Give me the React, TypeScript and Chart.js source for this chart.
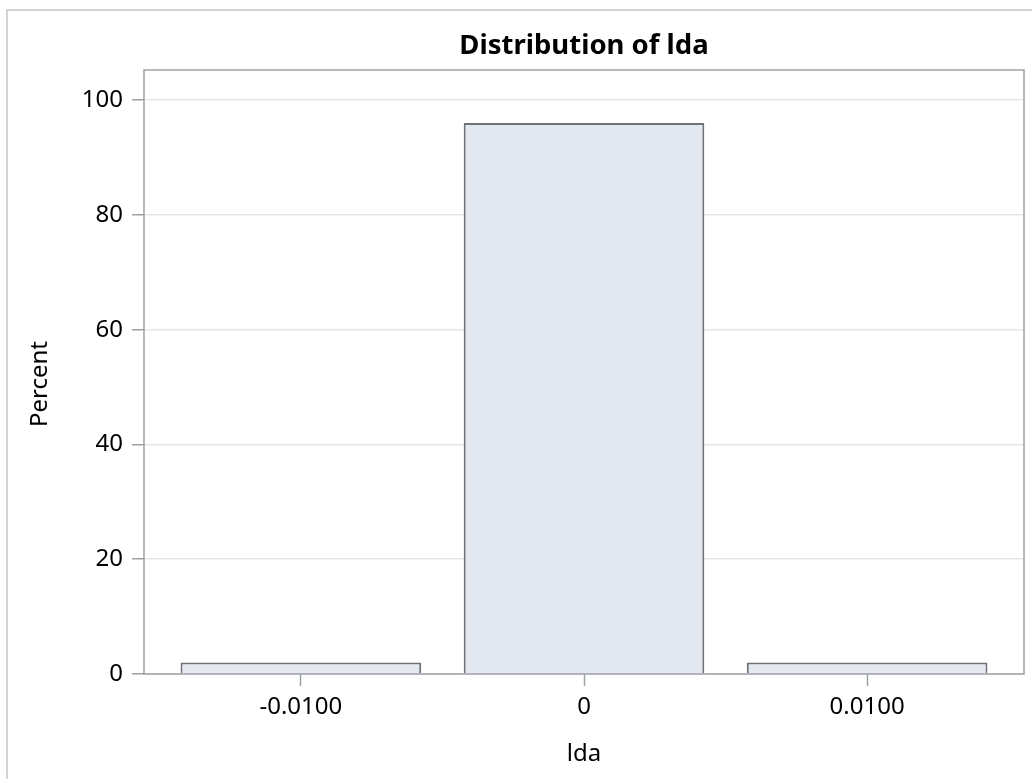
import React, { useEffect, useRef } from "react";
import { Chart, registerables } from "chart.js";

Chart.register(...registerables);

// ---- data ----
const binCenters = [-0.01, 0, 0.01];
const binLabels = ["-0.0100", "0", "0.0100"];
const percentValues = [2.0, 96.0, 2.0];
const yTickValues = [0, 20, 40, 60, 80, 100];
const chartTitle = "Distribution of lda";
const xAxisTitle = "lda";
const yAxisTitle = "Percent";

const FONT = "'Noto Sans', 'DejaVu Sans', sans-serif";
const FRAME = "#9da1a6";

const decorPlugin = {
  id: "decor",
  beforeDraw(chart: any) {
    const { ctx } = chart;
    ctx.save();
    ctx.fillStyle = "#ffffff";
    ctx.fillRect(0, 0, chart.width, chart.height);
    ctx.strokeStyle = "#d4d4d4";
    ctx.lineWidth = 2;
    ctx.strokeRect(7, 10, chart.width + 40, chart.height + 40);
    ctx.restore();
  },
  afterDraw(chart: any) {
    const { ctx, chartArea } = chart;
    const cx = (chartArea.left + chartArea.right) / 2;
    const cy = (chartArea.top + chartArea.bottom) / 2;
    ctx.save();
    // plot frame
    ctx.strokeStyle = FRAME;
    ctx.lineWidth = 1.5;
    ctx.strokeRect(chartArea.left, chartArea.top, chartArea.right - chartArea.left, chartArea.bottom - chartArea.top);
    ctx.fillStyle = "#000000";
    // title
    ctx.font = `bold 27.5px ${FONT}`;
    ctx.textAlign = "center";
    ctx.textBaseline = "alphabetic";
    ctx.fillText(chartTitle, cx, 54);
    // x axis title
    ctx.font = `24px ${FONT}`;
    ctx.fillText(xAxisTitle, cx, 761);
    // y axis title
    ctx.translate(47, cy + 12);
    ctx.rotate(-Math.PI / 2);
    ctx.fillText(yAxisTitle, 0, 0);
    ctx.restore();
  },
};

export default function App() {
  const canvasRef = useRef<HTMLCanvasElement | null>(null);

  useEffect(() => {
    const canvas = canvasRef.current;
    if (!canvas) return;
    const chart = new Chart(canvas, {
      type: "bar",
      data: {
        datasets: [
          {
            data: binCenters.map((x, i) => ({ x, y: percentValues[i] })),
            backgroundColor: "#e4e8f1",
            borderColor: "#6e7277",
            borderWidth: 2,
            barPercentage: 0.85,
            categoryPercentage: 1,
          },
        ],
      },
      options: {
        responsive: false,
        animation: false,
        events: [],
        layout: { padding: { left: 0, top: 70, right: 8, bottom: 0 } },
        plugins: {
          legend: { display: false },
          title: { display: false },
          tooltip: { enabled: false },
        },
        scales: {
          x: {
            type: "linear",
            min: -0.01554,
            max: 0.01554,
            offset: false,
            afterBuildTicks: (s: any) => {
              s.ticks = binCenters.map((v) => ({ value: v }));
            },
            afterFit: (s: any) => {
              s.height = 105;
            },
            ticks: {
              callback: (_v: any, i: number) => binLabels[i],
              color: "#000000",
              font: { family: FONT, size: 24 },
              padding: 7,
              maxRotation: 0,
              autoSkip: false,
            },
            grid: {
              offset: false,
              drawOnChartArea: false,
              drawTicks: true,
              tickLength: 12,
              tickColor: FRAME,
              tickWidth: 1.5,
            },
            border: { display: false },
          },
          y: {
            type: "linear",
            min: 0,
            max: 105.25,
            afterBuildTicks: (s: any) => {
              s.ticks = yTickValues.map((v) => ({ value: v }));
            },
            afterFit: (s: any) => {
              s.width = 144;
            },
            ticks: {
              color: "#000000",
              font: { family: FONT, size: 24 },
              padding: 9,
              callback: (v: any) => String(v),
            },
            grid: {
              color: "#e6e6e6",
              lineWidth: 1.5,
              drawTicks: true,
              tickLength: 12,
              tickColor: FRAME,
              tickWidth: 1.5,
            },
            border: { display: false },
          },
        },
      },
      plugins: [decorPlugin],
    } as any);
    return () => chart.destroy();
  }, []);

  return (
    <div style={{ position: "fixed", left: 0, top: 0, width: 1032, height: 779, background: "#fff" }}>
      <canvas ref={canvasRef} width={1032} height={779} style={{ width: 1032, height: 779, display: "block" }} />
    </div>
  );
}
